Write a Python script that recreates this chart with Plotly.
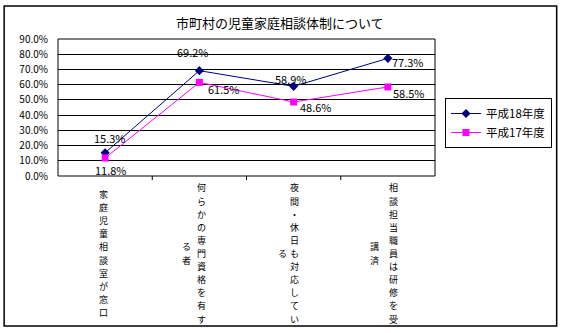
import plotly.graph_objects as go

categories = ["家庭児童相談室が窓口", "何らかの専門資格を有する者", "夜間・休日も対応している", "相談担当職員は研修を受講済"]
# vertical label columns (main column, continuation column)
label_main = ["家庭児童相談室が窓口", "何らかの専門資格を有す", "夜間・休日も対応してい", "相談担当職員は研修を受"]
label_cont = ["", "る者", "る", "講済"]
series_names = ["平成18年度", "平成17年度"]
h18 = [15.3, 69.2, 58.9, 77.3]
h17 = [11.8, 61.5, 48.6, 58.5]
y_ticks = [0, 10, 20, 30, 40, 50, 60, 70, 80, 90]

W, H = 563, 333
L, R, T, B = 58, 436, 39, 176
pw, ph = R - L, B - T

def px(x):
    return (x - L) / pw

def py(y):
    return (B - y) / ph

FONT = "Noto Sans CJK JP"
xs = list(range(len(categories)))

fig = go.Figure()
fig.add_trace(go.Scatter(
    x=xs, y=h18, name=series_names[0], mode="lines+markers",
    line=dict(color="#000080", width=1),
    marker=dict(symbol="diamond", size=7, color="#000080"),
))
fig.add_trace(go.Scatter(
    x=xs, y=h17, name=series_names[1], mode="lines+markers",
    line=dict(color="#FF00FF", width=1),
    marker=dict(symbol="square", size=7, color="#FF00FF"),
))

annotations = [dict(
    text="市町村の児童家庭相談体制について", xref="paper", yref="paper",
    x=px(281), y=py(22), xanchor="center", yanchor="middle", showarrow=False,
    font=dict(family=FONT, size=13, color="black"),
)]

# data-label offsets in pixels (dx, dy up-positive)
off18 = [(5, 15), (-6, 19), (-3, 7), (20, -4)]
off17 = [(6, -12), (25, -7), (22, -5), (21, -6)]
for vals, offs in ((h18, off18), (h17, off17)):
    for i, v in enumerate(vals):
        annotations.append(dict(
            text=f"{v:.1f}%", xref="x", yref="y", x=i, y=v,
            xshift=offs[i][0], yshift=offs[i][1], showarrow=False,
            xanchor="center", yanchor="middle", borderpad=0,
            font=dict(family=FONT, size=11, color="black"),
        ))

ROW = 13.1
CENTER_Y = 253.5
main_shift = [-2, 2.5, 0.5, 5.5]
cont_shift = [0, -12.5, -11, -13.5]

def add_column(text, i, shift):
    n = len(text)
    for k, ch in enumerate(text):
        yc = CENTER_Y + (k - (n - 1) / 2) * ROW
        annotations.append(dict(
            text=ch, xref="x", yref="paper", x=i, y=py(yc), xshift=shift,
            xanchor="center", yanchor="middle", showarrow=False, borderpad=0,
            font=dict(family=FONT, size=9, color="black"),
        ))

for i in xs:
    add_column(label_main[i], i, main_shift[i])
    if label_cont[i]:
        add_column(label_cont[i], i, cont_shift[i])

shapes = [
    dict(type="rect", xref="paper", yref="paper", x0=px(4), x1=px(558), y0=py(326), y1=py(6),
         line=dict(color="black", width=1.5), fillcolor="rgba(0,0,0,0)", layer="below"),
    dict(type="rect", xref="paper", yref="paper", x0=0, x1=1, y0=0, y1=1,
         line=dict(color="black", width=1), fillcolor="rgba(0,0,0,0)"),
]
for i in range(1, len(categories)):
    shapes.append(dict(type="line", xref="x", yref="paper", x0=i - 0.5, x1=i - 0.5,
                       y0=0, y1=py(B + 4), line=dict(color="black", width=1)))

fig.update_layout(
    width=W, height=H, margin=dict(l=L, r=W - R, t=T, b=H - B),
    paper_bgcolor="white", plot_bgcolor="white",
    showlegend=True,
    legend=dict(x=px(445), y=py(98), xanchor="left", yanchor="top",
                bordercolor="black", borderwidth=1, bgcolor="white",
                font=dict(family=FONT, size=11.5, color="black"),
                itemwidth=30, tracegroupgap=0),
    xaxis=dict(range=[-0.5, 3.5], showticklabels=False, showgrid=False, zeroline=False,
               tickvals=xs, fixedrange=True),
    yaxis=dict(range=[0, 90], tickvals=y_ticks, ticktext=[f"{v:.1f}%" for v in y_ticks],
               showgrid=True, gridcolor="black", gridwidth=1, zeroline=False,
               tickfont=dict(family=FONT, size=10, color="black"),
               ticks="", ticklabelstandoff=9),
    annotations=annotations, shapes=shapes,
    font=dict(family=FONT, color="black"),
)
fig.write_html("out.html")
